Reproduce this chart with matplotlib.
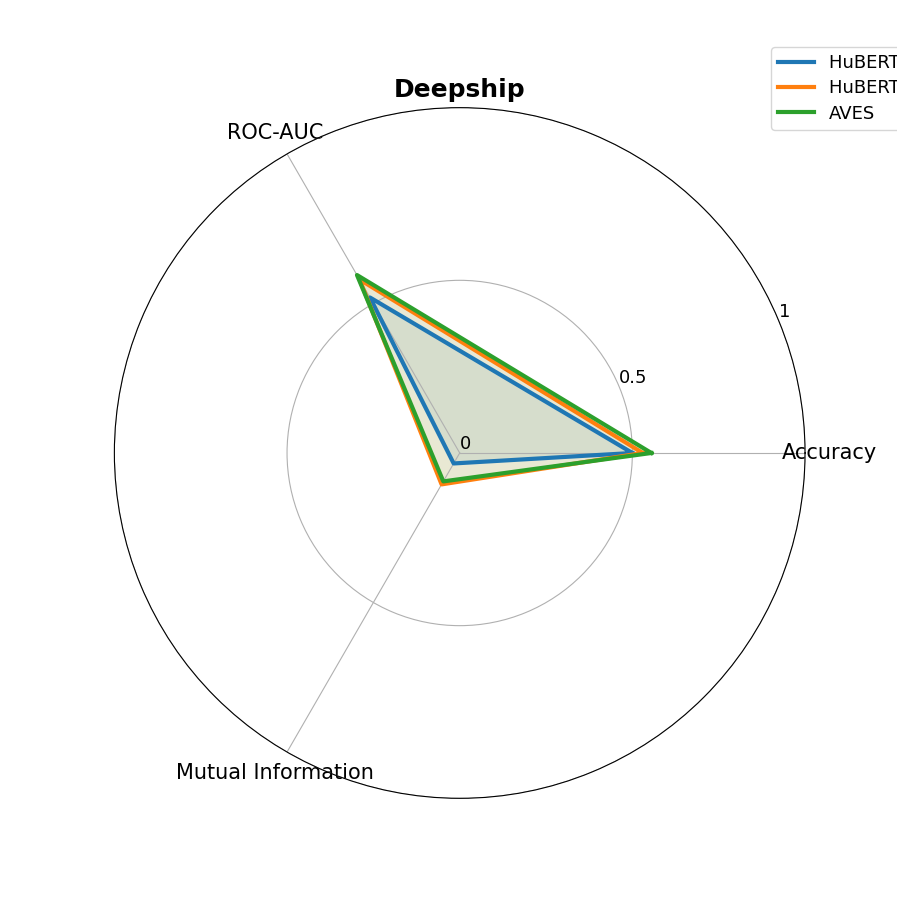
"""
radar chart of the Deepship results
"""

import numpy as np
import matplotlib
matplotlib.use("Agg")
import matplotlib.pyplot as plt

# metrics and scores
metrics = ["Accuracy", "ROC-AUC", "Mutual Information"]
models = ["HuBERT (base)", "HuBERT (large)", "AVES"]
hubert_base = [0.50, 0.52, 0.035]
hubert_large = [0.53, 0.58, 0.105]
aves = [0.555, 0.595, 0.095]
colors = ["#1f77b4", "#ff7f0e", "#2ca02c"]

angles = np.linspace(0, 2 * np.pi, len(metrics), endpoint=False)

fig = plt.figure(figsize=(8.97, 8.97), dpi=100)
ax = fig.add_subplot(111, polar=True)

for name, vals, col in zip(models, [hubert_base, hubert_large, aves], colors):
    v = np.concatenate([vals, vals[:1]])
    a = np.concatenate([angles, angles[:1]])
    ax.plot(a, v, color=col, linewidth=3, label=name)
    ax.fill(a, v, color=col, alpha=0.1)

ax.set_thetagrids(np.degrees(angles), metrics, fontsize=15)
ax.tick_params(axis="x", pad=7)
ax.set_ylim(0, 1)
ax.set_yticks([0, 0.5, 1])
ax.set_yticklabels(["0", "0.5", "1"], fontsize=13)
ax.set_title("Deepship", fontsize=18, fontweight="bold", pad=8)

fig.legend(loc="upper left", bbox_to_anchor=(771 / 897, 1 - 47 / 897),
           borderaxespad=0, fontsize=13, labelspacing=0.4)

plt.savefig("out.png")
